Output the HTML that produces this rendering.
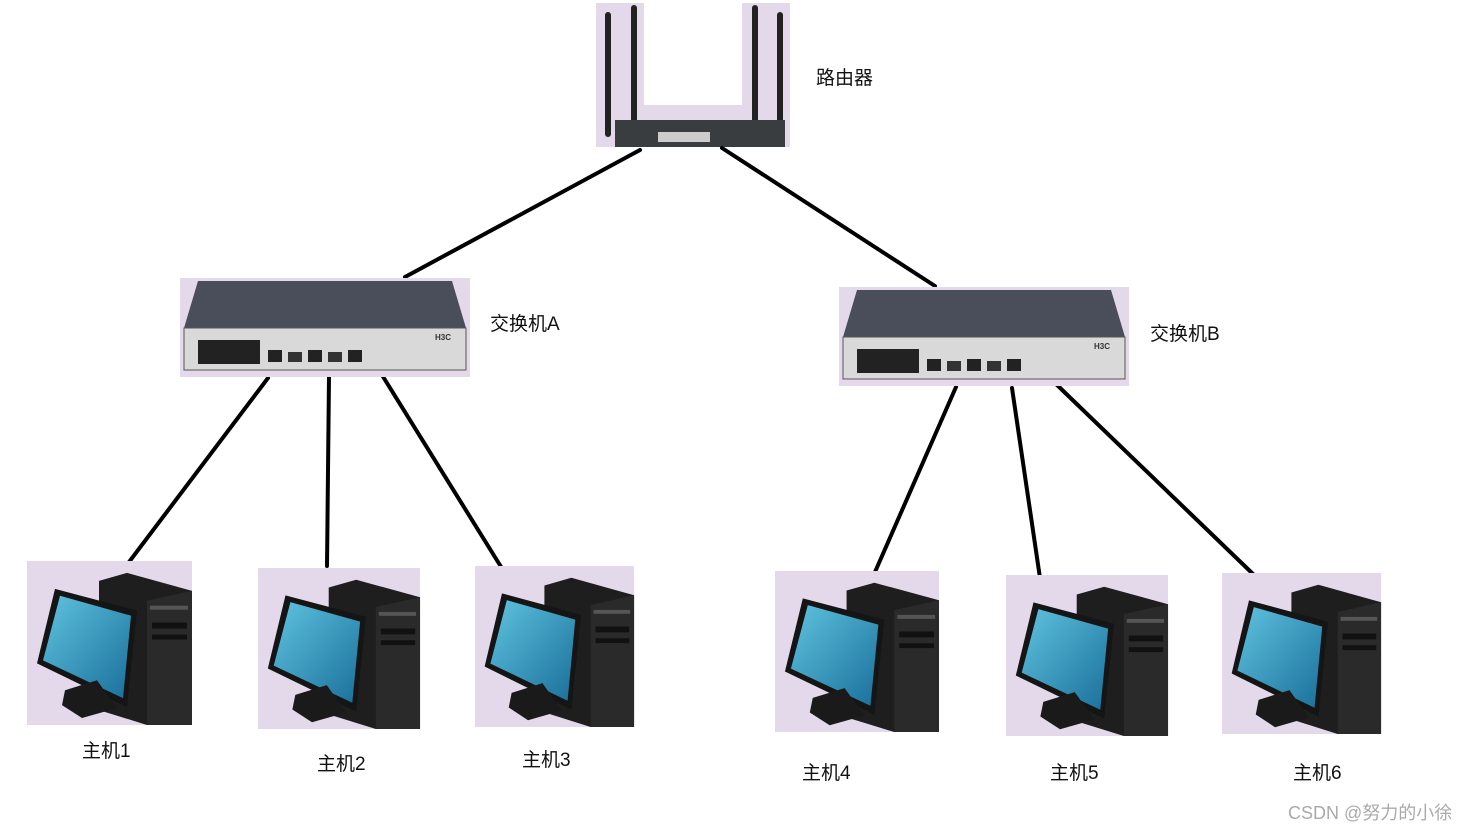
<!DOCTYPE html>
<html><head><meta charset="utf-8"><style>
body{margin:0;background:#fff;width:1475px;height:831px;overflow:hidden;font-family:"Liberation Sans","Noto Sans CJK SC",sans-serif}
svg{position:absolute;left:0;top:0}
.t{font-family:"Liberation Sans","Noto Sans CJK SC",sans-serif;font-size:19px;fill:#111}
</style></head><body>
<svg width="1475" height="831" viewBox="0 0 1475 831">
<defs>
<linearGradient id="scr" x1="0" y1="0" x2="1" y2="1"><stop offset="0" stop-color="#5fc3df"/><stop offset="1" stop-color="#1a6f9a"/></linearGradient>
<g id="pc">
<rect x="0" y="0" width="165" height="165" fill="#e4d9ea"/>
<polygon points="72,20 100,12 165,30 165,165 120,165 72,150" fill="#1e1e1e"/>
<polygon points="120,40 165,30 165,165 120,165" fill="#2a2a2a"/>
<rect x="123" y="45" width="38" height="4" fill="#555"/>
<rect x="125" y="62" width="35" height="6" fill="#111"/>
<rect x="125" y="74" width="35" height="5" fill="#111"/>
<polygon points="28,28 110,50 100,147 10,103" fill="#151515"/>
<polygon points="33,35 104,55 96,138 16,100" fill="url(#scr)"/>
<polygon points="38,130 70,120 90,148 55,158 35,145" fill="#1a1a1a"/>
</g>
<g id="sw">
<rect x="0" y="0" width="290" height="99" fill="#e4d9ea"/>
<polygon points="18,3 272,3 286,50 4,50" fill="#4a4d5a"/>
<rect x="4" y="50" width="282" height="42" fill="#d9d9d9" stroke="#555"/>
<rect x="18" y="62" width="62" height="24" fill="#222"/>
<rect x="88" y="72" width="14" height="12" fill="#222"/>
<rect x="108" y="74" width="14" height="10" fill="#333"/>
<rect x="128" y="72" width="14" height="12" fill="#222"/>
<rect x="148" y="74" width="14" height="10" fill="#333"/>
<rect x="168" y="72" width="14" height="12" fill="#222"/>
<text x="255" y="62" font-size="8" font-weight="bold" fill="#333">H3C</text>
</g>
</defs>
<rect x="596" y="3" width="194" height="144" fill="#e4d9ea"/>
<rect x="644" y="3" width="98" height="102" fill="#fff"/>
<rect x="605" y="12" width="6" height="125" rx="3" fill="#222"/>
<rect x="631" y="5" width="6" height="140" rx="3" fill="#222"/>
<rect x="752" y="5" width="6" height="140" rx="3" fill="#222"/>
<rect x="777" y="12" width="6" height="125" rx="3" fill="#222"/>
<rect x="615" y="120" width="170" height="27" fill="#3a3d40"/>
<rect x="658" y="132" width="52" height="10" fill="#ccc"/>
<g stroke="#000" stroke-width="4" stroke-linecap="round">
<line x1="640" y1="150" x2="405" y2="277"/>
<line x1="722" y1="148" x2="935" y2="286"/>
<line x1="268" y1="378" x2="126" y2="566"/>
<line x1="329" y1="377" x2="327" y2="566"/>
<line x1="382" y1="375" x2="503" y2="570"/>
<line x1="956" y1="387" x2="875" y2="572"/>
<line x1="1012" y1="388" x2="1040" y2="578"/>
<line x1="1056" y1="384" x2="1253" y2="574"/>
</g>
<use href="#sw" transform="translate(180,278)"/>
<use href="#sw" transform="translate(839,287)"/>
<use href="#pc" transform="translate(27,561) scale(1,0.994)"/>
<use href="#pc" transform="translate(258,568) scale(0.982,0.976)"/>
<use href="#pc" transform="translate(475,566) scale(0.964,0.976)"/>
<use href="#pc" transform="translate(775,571) scale(0.994,0.976)"/>
<use href="#pc" transform="translate(1006,575) scale(0.982,0.976)"/>
<use href="#pc" transform="translate(1222,573) scale(0.964,0.976)"/>
<text class="t" x="816" y="84">路由器</text>
<text class="t" x="490" y="330">交换机A</text>
<text class="t" x="1150" y="340">交换机B</text>
<text class="t" x="82" y="757">主机1</text>
<text class="t" x="317" y="770">主机2</text>
<text class="t" x="522" y="766">主机3</text>
<text class="t" x="802" y="779">主机4</text>
<text class="t" x="1050" y="779">主机5</text>
<text class="t" x="1293" y="779">主机6</text>
<text x="1288" y="819" font-size="18" fill="#aaa">CSDN @努力的小徐</text>
</svg>
</body></html>
